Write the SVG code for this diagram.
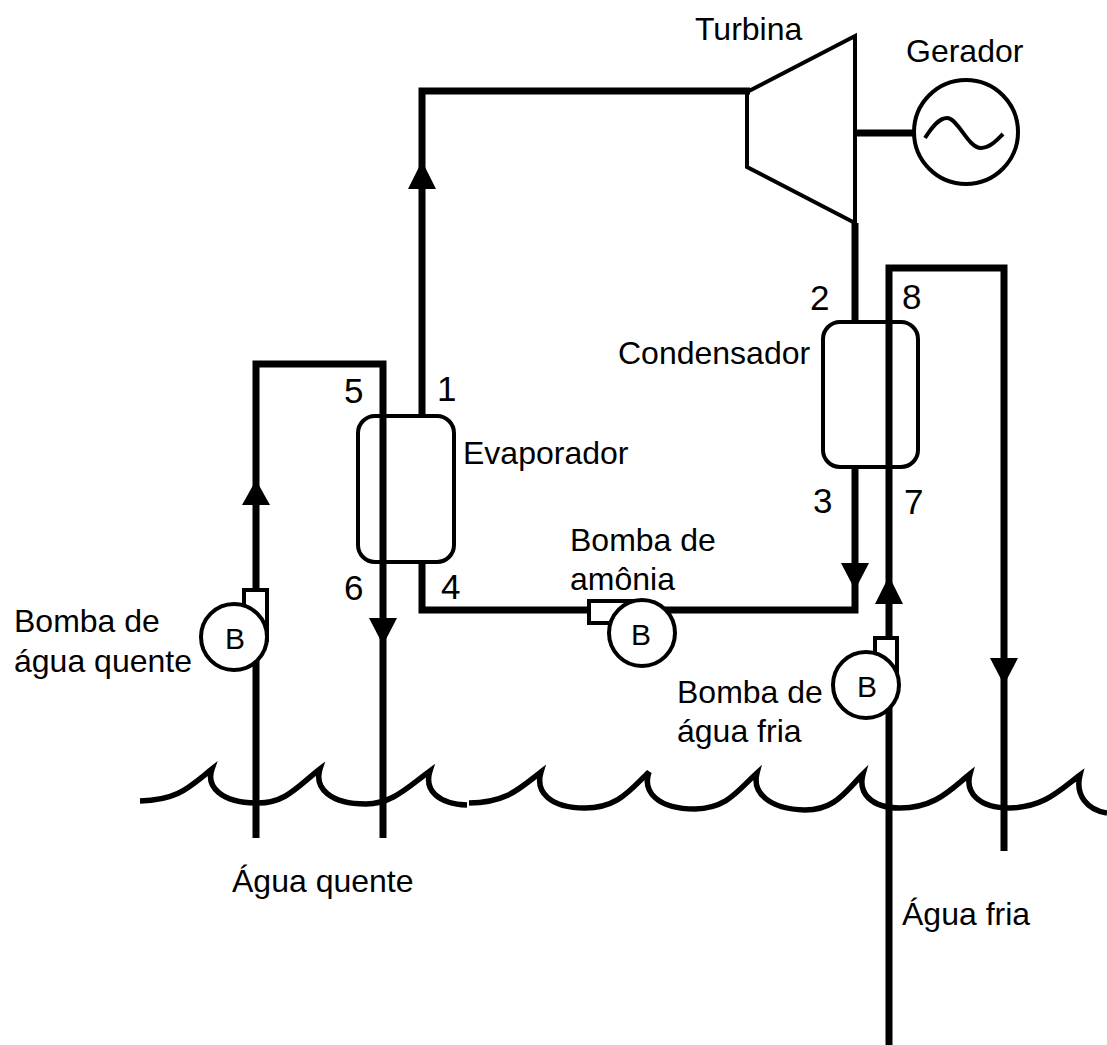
<svg xmlns="http://www.w3.org/2000/svg" width="1107" height="1045" viewBox="0 0 1107 1045">
<style>
text{font-family:"Liberation Sans",Arial,sans-serif;font-size:32px;fill:#000}
.n{font-size:35px}
.b{font-size:30px}
.p{fill:none;stroke:#000;stroke-width:7;stroke-linecap:butt;stroke-linejoin:miter}
.s{fill:#fff;stroke:#000;stroke-width:4}
.o{fill:none;stroke:#000;stroke-width:4}
.w{fill:none;stroke:#000;stroke-width:5.5}
.a{fill:#000}
</style>
<rect width="1107" height="1045" fill="#fff"/>
<g id="sea">
<path class="w" d="M140 801C178 800 188 788 212 769C206 786 220 803 258 803C286 803 298 786 320 769C314 788 330 804 366 804C392 804 408 787 430 771C424 790 438 804 467 805"/>
<path class="w" d="M469 803C505 803 518 790 541 772C535 792 550 808 585 808C618 808 630 790 649 772C642 792 658 809 695 809C728 808 738 790 757 773C752 792 768 809 805 810C835 810 845 792 863 774C858 792 870 808 900 808C935 808 950 790 970 774C965 792 978 808 1010 808C1045 807 1060 790 1080 775C1075 795 1087 810 1107 813"/>
</g>
<g id="connectors">
<path class="p" d="M422 416V91H750"/>
<path class="p" d="M422 561V610H600"/>
<path class="p" d="M660 610H855V565"/>
<path class="p" d="M855 223V321"/>
<path class="p" d="M855 467V570"/>
<path class="p" d="M856 133H914"/>
<path class="p" d="M256 838V364H383V838"/>
<path class="p" d="M889 1045V268H1004V851"/>
<polygon class="a" points="422,161 408,189 436,189"/>
<polygon class="a" points="256,480 242,505 270,505"/>
<polygon class="a" points="383,645 369,618 397,618"/>
<polygon class="a" points="855,590 841,563 869,563"/>
<polygon class="a" points="889,576 875,604 903,604"/>
<polygon class="a" points="1004,685 990,658 1018,658"/>
</g>
<g id="turbina">
<polygon class="o" points="747,92 855,36 855,223 747,167"/>
<text x="695" y="40">Turbina</text>
</g>
<g id="gerador">
<circle class="s" cx="966" cy="132" r="52"/>
<path class="o" d="M925 138C932 127 939 118 947 118C958 118 968 148 981 148C990 148 997 140 1003 134"/>
<text x="906" y="62">Gerador</text>
</g>
<g id="evaporador">
<rect class="o" x="358" y="416" width="96" height="146" rx="17"/>
<text x="463" y="464">Evaporador</text>
</g>
<g id="condensador">
<rect class="o" x="823" y="322" width="95" height="145" rx="17"/>
<text x="618" y="364">Condensador</text>
</g>
<g id="bomba-quente">
<rect class="s" x="244" y="590" width="23" height="50"/>
<circle class="s" cx="234" cy="637" r="33"/>
<text class="b" x="225" y="649">B</text>
<text x="14" y="632">Bomba de</text>
<text x="14" y="672">água quente</text>
</g>
<g id="bomba-amonia">
<rect class="s" x="589" y="601" width="50" height="22"/>
<circle class="s" cx="642" cy="633" r="33"/>
<text class="b" x="631" y="645">B</text>
<text x="570" y="551">Bomba de</text>
<text x="570" y="590">amônia</text>
</g>
<g id="bomba-fria">
<rect class="s" x="875" y="638" width="22" height="50"/>
<circle class="s" cx="866" cy="685" r="33"/>
<text class="b" x="857" y="697">B</text>
<text x="677" y="703">Bomba de</text>
<text x="677" y="742">água fria</text>
</g>
<g id="rotulos">
<text class="n" x="437" y="401">1</text>
<text class="n" x="810" y="310">2</text>
<text class="n" x="813" y="513">3</text>
<text class="n" x="441" y="599">4</text>
<text class="n" x="344" y="403">5</text>
<text class="n" x="344" y="600">6</text>
<text class="n" x="904" y="514">7</text>
<text class="n" x="902" y="309">8</text>
<text x="232" y="892">Água quente</text>
<text x="902" y="925">Água fria</text>
</g>
</svg>
